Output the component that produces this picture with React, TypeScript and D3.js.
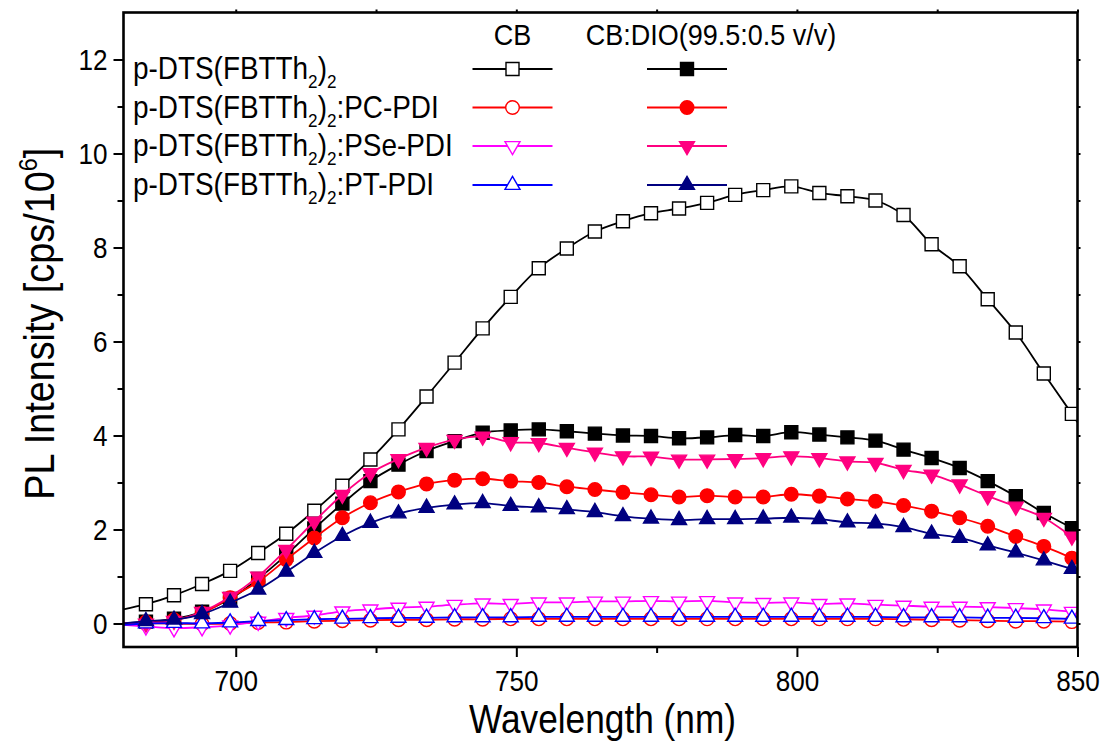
import React from 'react';
import * as d3 from 'd3';

// wavelength grid (nm): line runs edge to edge, markers on the inner points
const WL = [680, 684, 689, 694, 699, 704, 709, 714, 719, 724, 729, 734, 739, 744, 749, 754, 759, 764, 769, 774, 779, 784, 789, 794, 799, 804, 809, 814, 819, 824, 829, 834, 839, 844, 849, 850];

const pristineCB = [0.30, 0.41, 0.60, 0.84, 1.12, 1.50, 1.91, 2.40, 2.93, 3.49, 4.13, 4.83, 5.55, 6.28, 6.95, 7.56, 7.98, 8.34, 8.56, 8.73, 8.83, 8.95, 9.12, 9.22, 9.30, 9.16, 9.09, 9.00, 8.69, 8.07, 7.60, 6.90, 6.19, 5.32, 4.46, 4.28];
const pristineDIO = [0.00, 0.04, 0.10, 0.25, 0.52, 0.95, 1.46, 2.02, 2.55, 3.03, 3.38, 3.67, 3.88, 4.06, 4.11, 4.13, 4.09, 4.04, 4.00, 3.99, 3.94, 3.96, 4.01, 3.99, 4.07, 4.02, 3.96, 3.89, 3.70, 3.52, 3.31, 3.03, 2.71, 2.35, 2.03, 1.95];
const pcCB = [-0.02, 0.00, 0.00, -0.01, 0.00, 0.02, 0.03, 0.05, 0.06, 0.07, 0.08, 0.08, 0.09, 0.09, 0.10, 0.10, 0.10, 0.10, 0.10, 0.10, 0.10, 0.10, 0.10, 0.10, 0.10, 0.10, 0.10, 0.10, 0.09, 0.08, 0.07, 0.06, 0.05, 0.05, 0.04, 0.04];
const pcDIO = [0.00, 0.03, 0.08, 0.22, 0.55, 0.89, 1.36, 1.82, 2.25, 2.57, 2.80, 2.97, 3.05, 3.08, 3.03, 3.00, 2.91, 2.85, 2.79, 2.74, 2.69, 2.72, 2.69, 2.69, 2.75, 2.71, 2.65, 2.60, 2.51, 2.39, 2.25, 2.07, 1.85, 1.64, 1.39, 1.33];
const pseCB = [-0.03, -0.06, -0.10, -0.08, -0.04, 0.04, 0.12, 0.17, 0.26, 0.30, 0.34, 0.36, 0.40, 0.43, 0.42, 0.45, 0.45, 0.47, 0.47, 0.48, 0.47, 0.48, 0.45, 0.44, 0.45, 0.42, 0.43, 0.40, 0.38, 0.36, 0.36, 0.35, 0.33, 0.30, 0.25, 0.24];
const pseDIO = [0.00, 0.00, 0.06, 0.25, 0.57, 1.00, 1.57, 2.17, 2.74, 3.20, 3.50, 3.74, 3.91, 3.98, 3.86, 3.84, 3.74, 3.64, 3.56, 3.55, 3.49, 3.49, 3.50, 3.52, 3.56, 3.52, 3.45, 3.42, 3.27, 3.17, 2.96, 2.71, 2.49, 2.25, 1.85, 1.78];
const ptCB = [-0.03, 0.00, 0.01, 0.00, 0.02, 0.05, 0.07, 0.09, 0.10, 0.11, 0.12, 0.12, 0.13, 0.13, 0.13, 0.14, 0.14, 0.14, 0.14, 0.14, 0.14, 0.14, 0.14, 0.14, 0.14, 0.14, 0.14, 0.14, 0.13, 0.13, 0.13, 0.12, 0.12, 0.11, 0.10, 0.10];
const ptDIO = [0.00, 0.05, 0.08, 0.20, 0.44, 0.72, 1.10, 1.50, 1.86, 2.14, 2.34, 2.46, 2.53, 2.56, 2.50, 2.47, 2.43, 2.37, 2.28, 2.23, 2.20, 2.22, 2.22, 2.23, 2.25, 2.22, 2.15, 2.13, 2.05, 1.91, 1.82, 1.66, 1.51, 1.34, 1.16, 1.12];

const xTicks = [700, 750, 800, 850];
const xMinor = [725, 775, 825];
const yTicks = [0, 2, 4, 6, 8, 10, 12];
const yMinor = [1, 3, 5, 7, 9, 11];

const legendNames = ['', ':PC-PDI', ':PSe-PDI', ':PT-PDI'];

type Shape = 'square' | 'circle' | 'down' | 'up';
const seriesList: { values: number[]; color: string; shape: Shape; filled: boolean; row: number }[] = [
  { values: pristineCB, color: '#000000', shape: 'square', filled: false, row: 0 },
  { values: pristineDIO, color: '#000000', shape: 'square', filled: true, row: 0 },
  { values: pcCB, color: '#ff0000', shape: 'circle', filled: false, row: 1 },
  { values: pcDIO, color: '#ff0000', shape: 'circle', filled: true, row: 1 },
  { values: pseCB, color: '#ff00ff', shape: 'down', filled: false, row: 2 },
  { values: pseDIO, color: '#ff0080', shape: 'down', filled: true, row: 2 },
  { values: ptCB, color: '#0000ff', shape: 'up', filled: false, row: 3 },
  { values: ptDIO, color: '#000080', shape: 'up', filled: true, row: 3 },
];

const FONT = 'Liberation Sans, Arial, sans-serif';
const SX = 0.9; // text is a little narrow in the original

function markerPath(shape: Shape, cx: number, cy: number): string {
  if (shape === 'square') {
    const h = 6.5;
    return `M${cx - h},${cy - h}H${cx + h}V${cy + h}H${cx - h}Z`;
  }
  if (shape === 'circle') {
    const r = 6.8;
    return `M${cx - r},${cy}A${r},${r} 0 1,0 ${cx + r},${cy}A${r},${r} 0 1,0 ${cx - r},${cy}Z`;
  }
  const w = 7.5;
  const h = 13;
  if (shape === 'up') {
    return `M${cx},${cy - (2 * h) / 3}L${cx + w},${cy + h / 3}L${cx - w},${cy + h / 3}Z`;
  }
  return `M${cx},${cy + (2 * h) / 3}L${cx + w},${cy - h / 3}L${cx - w},${cy - h / 3}Z`;
}

const App = () => {
  const ref = React.useRef<SVGSVGElement>(null);

  React.useEffect(() => {
    const svg = d3.select(ref.current);
    svg.selectAll('*').remove();

    const width = 1107;
    const height = 748;
    const margin = { top: 12.5, right: 29.5, bottom: 101, left: 123.5 };

    const xScale = d3.scaleLinear()
      .domain([680, 850])
      .range([margin.left, width - margin.right]);
    const yScale = d3.scaleLinear()
      .domain([-0.5, 13])
      .range([height - margin.bottom, margin.top]);

    const x0 = margin.left;
    const x1 = width - margin.right;
    const y0 = height - margin.bottom;
    const y1 = margin.top;

    svg.append('rect').attr('width', width).attr('height', height).attr('fill', '#fff');

    svg.append('defs').append('clipPath').attr('id', 'plot-clip')
      .append('rect')
      .attr('x', x0).attr('y', y1)
      .attr('width', x1 - x0).attr('height', y0 - y1);

    const plot = svg.append('g').attr('clip-path', 'url(#plot-clip)');

    const line = d3.line<number>()
      .x((_, i) => xScale(WL[i]))
      .y(d => yScale(d))
      .curve(d3.curveCatmullRom.alpha(0.5));

    seriesList.forEach(s => {
      plot.append('path')
        .datum(s.values)
        .attr('fill', 'none')
        .attr('stroke', s.color)
        .attr('stroke-width', 1.8)
        .attr('d', line);
      plot.selectAll(null)
        .data(s.values.slice(1, -1))
        .enter()
        .append('path')
        .attr('d', (d, i) => markerPath(s.shape, xScale(WL[i + 1]), yScale(d)))
        .attr('fill', s.filled ? s.color : '#fff')
        .attr('stroke', s.color)
        .attr('stroke-width', 1.4);
    });

    // axes: outward ticks on bottom/left, tiny ticks on top/right
    const bottom = svg.append('g')
      .attr('transform', `translate(0, ${y0})`)
      .call(d3.axisBottom(xScale).tickValues(xTicks).tickSize(10).tickFormat(d3.format('d')));
    svg.append('g')
      .attr('transform', `translate(0, ${y0})`)
      .call(d3.axisBottom(xScale).tickValues(xMinor).tickSize(6).tickFormat(() => ''));
    const left = svg.append('g')
      .attr('transform', `translate(${x0}, 0)`)
      .call(d3.axisLeft(yScale).tickValues(yTicks).tickSize(10).tickFormat(d3.format('d')));
    svg.append('g')
      .attr('transform', `translate(${x0}, 0)`)
      .call(d3.axisLeft(yScale).tickValues(yMinor).tickSize(6).tickFormat(() => ''));
    svg.append('g')
      .attr('transform', `translate(0, ${y1})`)
      .call(d3.axisTop(xScale).tickValues([...xTicks, ...xMinor]).tickSize(3).tickFormat(() => ''));
    svg.append('g')
      .attr('transform', `translate(${x1}, 0)`)
      .call(d3.axisRight(yScale).tickValues([...yTicks, ...yMinor]).tickSize(3).tickFormat(() => ''));

    svg.selectAll('.domain').remove();
    svg.selectAll('.tick line').attr('stroke', '#000').attr('stroke-width', 2);

    bottom.selectAll('.tick text')
      .attr('font-family', FONT)
      .attr('font-size', 29)
      .attr('fill', '#000')
      .attr('dy', 0)
      .attr('y', 44)
      .attr('transform', `scale(${SX},1)`);

    left.selectAll('.tick text')
      .attr('font-family', FONT)
      .attr('font-size', 29)
      .attr('fill', '#000')
      .attr('dy', '0.36em')
      .attr('x', -16 / SX)
      .attr('transform', `scale(${SX},1)`);

    // frame
    svg.append('rect')
      .attr('x', x0).attr('y', y1)
      .attr('width', x1 - x0).attr('height', y0 - y1)
      .attr('fill', 'none')
      .attr('stroke', '#000')
      .attr('stroke-width', 2.6);

    // axis titles
    svg.append('text')
      .attr('transform', `translate(${(x0 + x1) / 2 + 2}, 733) scale(0.86,1)`)
      .attr('text-anchor', 'middle')
      .attr('font-family', FONT)
      .attr('font-size', 41)
      .text('Wavelength (nm)');

    const yl = svg.append('text')
      .attr('transform', `translate(54, ${(y0 + y1) / 2 - 6}) rotate(-90) scale(${SX},1)`)
      .attr('text-anchor', 'middle')
      .attr('font-family', FONT)
      .attr('font-size', 42);
    yl.append('tspan').text('PL Intensity [cps/10');
    yl.append('tspan').attr('font-size', 26).attr('dy', -17).text('6');
    yl.append('tspan').attr('dy', 17).text(']');

    // legend
    const legend = svg.append('g');
    const colCB = 512.5;
    const colDIO = 687;
    const rowY = [69, 107.5, 146, 185];

    legend.append('text')
      .attr('transform', `translate(${colCB}, 45) scale(${SX},1)`)
      .attr('text-anchor', 'middle')
      .attr('font-family', FONT)
      .attr('font-size', 30)
      .text('CB');
    legend.append('text')
      .attr('transform', `translate(711, 45) scale(${SX},1)`)
      .attr('text-anchor', 'middle')
      .attr('font-family', FONT)
      .attr('font-size', 30)
      .text('CB:DIO(99.5:0.5 v/v)');

    legendNames.forEach((suffix, i) => {
      const t = legend.append('text')
        .attr('transform', `translate(133, ${rowY[i] + 10}) scale(${SX},1)`)
        .attr('font-family', FONT)
        .attr('font-size', 31);
      t.append('tspan').text('p-DTS(FBTTh');
      t.append('tspan').attr('font-size', 19).attr('dy', 9).text('2');
      t.append('tspan').attr('dy', -9).text(')');
      t.append('tspan').attr('font-size', 19).attr('dy', 9).text('2');
      if (suffix) t.append('tspan').attr('dy', -9).text(suffix);
    });

    seriesList.forEach(s => {
      const cx = s.filled ? colDIO : colCB;
      const cy = rowY[s.row];
      legend.append('line')
        .attr('x1', cx - 40).attr('x2', cx + 40)
        .attr('y1', cy).attr('y2', cy)
        .attr('stroke', s.color)
        .attr('stroke-width', 1.8);
      legend.append('path')
        .attr('d', markerPath(s.shape, cx, cy))
        .attr('fill', s.filled ? s.color : '#fff')
        .attr('stroke', s.color)
        .attr('stroke-width', 1.4);
    });
  }, []);

  return (
    <svg
      ref={ref}
      width="1107"
      height="748"
      style={{ position: 'absolute', left: 0, top: 0 }}
    ></svg>
  );
};

export default App;
